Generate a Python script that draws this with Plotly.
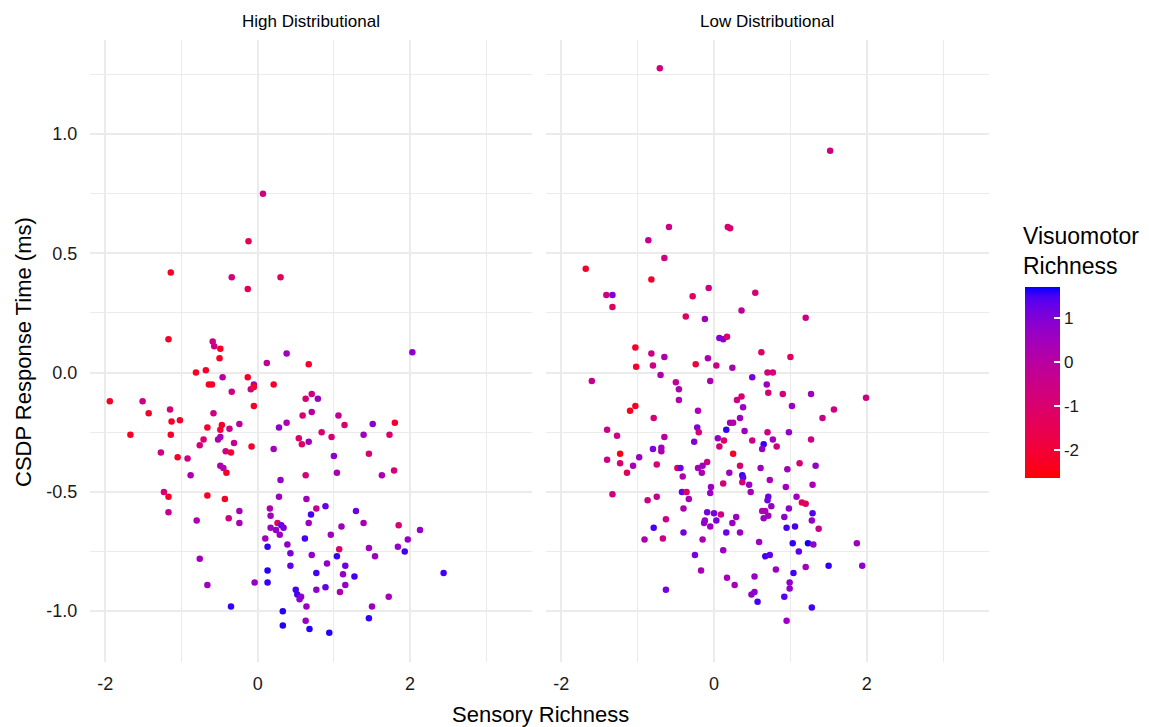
import plotly.graph_objects as go
import numpy as np

# ---------------- data ----------------
panels = ["High Distributional", "Low Distributional"]

hd_x = [0.07,-0.12,-1.14,-0.34,0.30,-0.13,-1.17,-0.59,-0.57,-0.49,
        -0.50,0.38,0.12,-0.81,-0.68,-0.64,-0.60,-0.46,-0.13,-0.05,
        -0.09,-0.05,0.21,-0.34,-1.94,-1.51,-1.43,-0.05,-0.58,-1.15,
        -1.13,-1.02,-1.67,-1.14,-0.66,-0.47,-0.49,-0.37,-0.24,-0.71,
        -0.76,-0.52,-0.49,-0.31,-0.42,-0.35,-0.08,-1.27,-1.05,-0.92,
        -0.88,-0.49,-0.45,-0.41,0.28,0.38,0.21,0.30,0.28,-1.23,
        -1.17,-0.66,-0.43,-1.17,-0.80,-0.38,-0.24,-0.24,0.16,0.17,
        0.26,0.31,0.34,0.17,0.24,0.29,0.10,0.13,0.39,0.43,
        0.43,-0.76,0.13,0.13,-0.04,-0.66,-0.35,0.33,0.33,0.59,
        0.71,1.06,1.14,1.51,1.80,0.84,0.54,0.58,0.67,0.97,
        1.39,1.73,1.00,1.46,0.63,1.04,1.63,1.79,0.64,0.77,
        0.89,0.70,1.29,1.39,1.85,2.13,1.97,1.84,1.93,2.44,
        0.67,1.10,0.62,0.96,0.71,1.07,1.04,1.46,1.54,0.91,
        1.15,0.77,1.12,1.27,0.50,0.52,0.55,0.57,0.77,0.89,
        1.15,1.08,1.72,0.64,1.50,1.46,0.63,0.68,0.94,0.67,
        2.03,0.71,0.63,0.79]
hd_y = [0.75,0.55,0.42,0.40,0.40,0.35,0.14,0.13,0.11,0.10,
        0.06,0.08,0.04,0.00,0.01,-0.05,-0.05,-0.02,-0.02,-0.05,
        -0.07,-0.06,-0.05,-0.08,-0.12,-0.12,-0.17,-0.14,-0.17,-0.155,
        -0.205,-0.20,-0.26,-0.26,-0.23,-0.22,-0.24,-0.235,-0.215,-0.28,
        -0.305,-0.28,-0.27,-0.295,-0.33,-0.335,-0.31,-0.335,-0.355,-0.36,
        -0.43,-0.39,-0.40,-0.42,-0.23,-0.21,-0.32,-0.45,-0.52,-0.50,
        -0.52,-0.515,-0.53,-0.585,-0.62,-0.61,-0.58,-0.63,-0.57,-0.60,
        -0.63,-0.64,-0.65,-0.65,-0.66,-0.68,-0.695,-0.73,-0.72,-0.757,
        -0.81,-0.78,-0.83,-0.88,-0.88,-0.89,-0.98,-1.00,-1.06,-0.18,
        -0.165,-0.18,-0.22,-0.215,-0.21,-0.25,-0.275,-0.30,-0.29,-0.27,
        -0.26,-0.26,-0.35,-0.34,-0.43,-0.42,-0.43,-0.41,-0.53,-0.57,
        -0.56,-0.595,-0.58,-0.63,-0.64,-0.66,-0.70,-0.73,-0.75,-0.84,
        -0.63,-0.645,-0.695,-0.68,-0.765,-0.74,-0.77,-0.735,-0.77,-0.80,
        -0.81,-0.84,-0.845,-0.855,-0.91,-0.93,-0.95,-0.94,-0.91,-0.90,
        -0.89,-0.92,-0.94,-0.98,-0.98,-1.03,-1.04,-1.075,-1.09,0.035,
        0.085,-0.09,-0.11,-0.11]
hd_v = [-0.6,-1.4,-2.3,-0.8,-1.4,-1.4,-2.2,-0.5,-0.4,-2.3,
        -2.3,0.5,-0.3,-2.3,-2.2,-2.3,-2.2,0.0,-2.2,0.4,
        -0.6,-2.2,-2.2,-0.6,-2.3,-0.5,-2.2,-2.2,-0.6,-0.8,
        -2.2,-2.2,-2.3,-2.2,-2.2,-2.2,-2.0,-0.5,0.0,-1.0,
        -0.8,0.3,0.3,-0.3,-0.5,-2.2,-2.2,-0.5,-2.2,-0.6,
        0.3,0.3,0.2,-2.2,0.8,0.3,0.4,0.7,0.5,-0.8,
        -2.2,-2.2,-2.2,-0.2,0.3,-0.6,0.4,0.4,0.3,0.5,
        -1.3,1.3,1.1,0.5,0.7,0.6,0.5,1.55,0.8,1.1,
        1.3,0.5,1.6,1.55,0.7,0.5,1.55,1.6,1.6,-1.0,
        0.0,-0.3,-1.0,0.9,-2.2,-1.0,-1.0,-1.1,0.5,-0.8,
        0.5,-1.0,0.8,-1.0,-0.8,0.3,0.3,-0.8,0.5,-0.3,
        1.3,1.5,1.2,0.3,-1.0,0.7,0.7,0.7,1.5,1.5,
        0.5,0.5,1.5,0.5,0.8,-1.0,1.55,0.5,0.5,0.8,
        1.2,1.5,0.7,1.5,1.5,1.5,0.8,0.8,0.8,1.3,
        0.7,0.3,0.4,0.6,0.6,1.55,0.6,1.6,1.6,-2.2,
        0.8,-0.6,-0.9,0.6]

ld_x = [-0.71,1.52,-0.59,0.18,0.21,-0.86,-0.65,-1.68,-0.82,-1.41,
        -1.33,-1.33,-0.07,-0.28,-0.37,-0.12,0.07,0.12,0.17,-1.03,
        -0.82,-0.65,-1.02,-0.80,-0.08,-0.24,0.03,0.24,-0.70,-1.60,
        -0.50,-0.46,-0.05,-0.46,-1.10,-1.03,-0.79,-0.21,-0.22,-0.20,
        -1.40,-1.27,-0.65,0.16,0.05,0.13,0.07,-0.26,-1.23,-0.80,
        -0.69,-0.69,-0.98,-1.40,-0.09,-1.23,-1.06,-1.14,-0.75,-0.48,
        -0.44,-0.41,-0.21,-0.15,-0.16,0.12,0.20,-1.33,-0.42,-0.36,
        -0.33,-0.04,-0.05,-0.75,-0.87,-0.40,-0.09,0.00,0.09,-0.12,
        -0.13,0.03,-0.05,-0.63,-0.79,-0.91,-0.67,-0.40,-0.15,0.16,
        0.12,-0.25,-0.17,0.17,-0.63,0.54,0.36,1.20,0.62,1.00,
        0.50,0.70,0.77,0.69,0.71,0.90,1.27,1.99,0.30,0.36,
        0.38,1.02,1.42,1.57,0.21,0.25,0.34,0.40,0.70,0.98,
        0.50,0.77,0.65,0.63,0.82,1.27,0.25,0.34,0.37,0.38,
        0.37,0.46,0.61,0.73,1.12,1.33,0.96,1.29,0.94,0.48,
        0.71,0.70,0.75,1.08,1.15,1.20,0.98,0.29,0.24,0.63,
        0.67,0.71,0.65,0.92,0.95,1.06,1.29,1.28,1.37,0.34,
        0.59,1.03,1.23,1.30,1.11,0.67,0.73,1.87,1.50,1.94,
        1.20,0.81,1.04,0.53,0.27,0.99,0.99,0.49,0.53,0.57,
        0.92,1.28,0.95]
ld_y = [1.276,0.93,0.61,0.61,0.605,0.555,0.48,0.435,0.39,0.325,
        0.325,0.275,0.355,0.32,0.235,0.225,0.145,0.14,0.15,0.105,
        0.08,0.065,0.025,0.03,0.06,0.035,0.03,0.02,-0.01,-0.035,
        -0.04,-0.07,-0.035,-0.115,-0.16,-0.14,-0.19,-0.16,-0.23,-0.25,
        -0.24,-0.265,-0.27,-0.24,-0.275,-0.285,-0.31,-0.29,-0.34,-0.32,
        -0.315,-0.33,-0.355,-0.365,-0.375,-0.38,-0.39,-0.42,-0.385,-0.40,
        -0.40,-0.435,-0.40,-0.39,-0.42,-0.465,-0.42,-0.51,-0.50,-0.50,
        -0.53,-0.48,-0.505,-0.52,-0.535,-0.57,-0.585,-0.59,-0.595,-0.62,
        -0.63,-0.62,-0.645,-0.615,-0.65,-0.70,-0.695,-0.67,-0.70,-0.67,
        -0.745,-0.765,-0.83,-0.86,-0.91,0.335,0.26,0.23,0.085,0.065,
        -0.02,0.0,0.0,-0.05,-0.085,-0.09,-0.09,-0.105,-0.115,-0.10,
        -0.145,-0.14,-0.19,-0.155,-0.21,-0.21,-0.19,-0.245,-0.25,-0.25,
        -0.285,-0.28,-0.30,-0.32,-0.31,-0.28,-0.34,-0.39,-0.43,-0.44,
        -0.46,-0.47,-0.40,-0.45,-0.38,-0.39,-0.405,-0.47,-0.48,-0.50,
        -0.52,-0.535,-0.56,-0.52,-0.545,-0.55,-0.57,-0.605,-0.63,-0.58,
        -0.58,-0.60,-0.61,-0.605,-0.65,-0.645,-0.59,-0.62,-0.655,-0.67,
        -0.71,-0.715,-0.715,-0.72,-0.75,-0.77,-0.765,-0.715,-0.81,-0.81,
        -0.815,-0.825,-0.84,-0.855,-0.89,-0.88,-0.905,-0.93,-0.92,-0.96,
        -0.94,-0.985,-1.04]
ld_v = [-0.6,-0.6,-0.6,-0.9,-1.0,-0.2,-0.6,-2.2,-2.2,-0.6,
        1.0,-1.2,-0.6,-1.3,-1.2,0.5,1.0,0.9,-1.0,-2.2,
        -0.6,0.3,-2.2,-0.6,0.3,-1.9,-0.6,0.3,0.3,-0.4,
        -0.2,0.2,0.3,0.2,-2.3,-2.2,-0.8,0.2,1.0,-0.9,
        -0.5,-0.5,0.0,1.55,0.6,-1.1,-0.8,1.0,-2.5,1.0,
        0.4,0.4,0.6,-0.5,-0.6,-1.0,0.4,-1.4,-0.8,-1.3,
        1.2,0.2,0.4,0.5,0.3,-0.8,0.5,-0.6,1.35,-1.2,
        0.3,0.6,0.6,-0.3,-0.6,0.2,1.1,1.1,-0.6,0.7,
        0.7,1.1,0.5,-0.6,1.5,0.3,-0.6,1.1,0.3,1.2,
        0.6,1.1,0.4,0.4,1.1,-0.8,-0.2,-0.6,-1.2,-1.2,
        1.1,-0.8,-0.8,0.6,-0.8,-0.8,0.5,-0.6,-0.6,-0.9,
        0.6,0.6,-0.4,-0.6,0.4,0.2,0.5,0.6,-0.6,0.7,
        -0.6,0.4,1.55,0.8,-0.6,-0.6,-2.3,-1.0,1.55,1.35,
        -0.8,0.6,0.6,0.3,-0.9,0.7,0.5,0.3,0.5,0.4,
        1.2,1.2,0.7,0.5,-1.3,-1.2,0.7,0.6,0.6,0.3,
        0.3,0.4,0.6,0.8,1.5,1.5,1.4,0.7,-0.3,0.6,
        0.5,1.55,1.65,0.7,1.35,1.5,1.35,0.5,1.55,0.8,
        0.4,0.6,1.5,0.6,0.4,0.8,0.8,0.7,0.8,1.5,
        1.35,1.5,0.6]

x_ticks = [-2, 0, 2]
y_ticks = [-1.0, -0.5, 0.0, 0.5, 1.0]
y_ticktext = ["-1.0", "-0.5", "0.0", "0.5", "1.0"]
cbar_ticks = [-2, -1, 0, 1]
v_min, v_max = -2.64, 1.70

# ------------- colour scale: red -> blue interpolated in CIE Lab -------------
def _lin(c):
    c = c / 255.0
    return np.where(c <= 0.04045, c / 12.92, ((c + 0.055) / 1.055) ** 2.4)

def _gam(c):
    c = np.clip(c, 0, 1)
    return np.where(c <= 0.0031308, 12.92 * c, 1.055 * c ** (1 / 2.4) - 0.055) * 255

M = np.array([[0.4124, 0.3576, 0.1805], [0.2126, 0.7152, 0.0722], [0.0193, 0.1192, 0.9505]])
Mi = np.linalg.inv(M)
WHITE = np.array([0.95047, 1.0, 1.08883])

def rgb2lab(rgb):
    xyz = M @ _lin(np.array(rgb, float)) / WHITE
    f = np.where(xyz > 0.008856, np.cbrt(xyz), 7.787 * xyz + 16 / 116)
    return np.array([116 * f[1] - 16, 500 * (f[0] - f[1]), 200 * (f[1] - f[2])])

def lab2rgb(lab):
    fy = (lab[0] + 16) / 116
    fx = fy + lab[1] / 500
    fz = fy - lab[2] / 200
    f = np.array([fx, fy, fz])
    xyz = np.where(f ** 3 > 0.008856, f ** 3, (f - 16 / 116) / 7.787) * WHITE
    return _gam(Mi @ xyz)

lab_lo = rgb2lab([255, 0, 0])
lab_hi = rgb2lab([0, 0, 255])
colorscale = []
for t in np.linspace(0, 1, 21):
    r, g, b = lab2rgb(lab_lo + (lab_hi - lab_lo) * t)
    colorscale.append([float(t), f"rgb({int(round(r))},{int(round(g))},{int(round(b))})"])

# ---------------- figure ----------------
# the page body has an 8px margin, so the figure is 8px smaller and
# all reference pixel positions are shifted by 8px
OFF = 8
W, H = 1149 - OFF, 727 - OFF
def px(v): return (v - OFF) / W
def py(v): return 1 - (v - OFF) / H

FONT = "Liberation Sans, Arial, sans-serif"
GRID = "#EBEBEB"
TXT = "#1a1a1a"

fig = go.Figure()
for xs, ys, vs, xa, ya in [(hd_x, hd_y, hd_v, "x", "y"), (ld_x, ld_y, ld_v, "x2", "y2")]:
    fig.add_trace(go.Scatter(
        x=xs, y=ys, mode="markers", xaxis=xa, yaxis=ya, showlegend=False,
        marker=dict(color=vs, coloraxis="coloraxis", size=6.5, line=dict(width=0)),
    ))

xcommon = dict(range=[-2.2, 3.6], tickvals=x_ticks, ticktext=[str(t) for t in x_ticks],
               showgrid=True, gridcolor=GRID, gridwidth=1.8, zeroline=False, showline=False,
               minor=dict(tickvals=[-1, 1, 3], showgrid=True, gridcolor=GRID, gridwidth=1.2),
               ticks="outside", ticklen=5, tickcolor="rgba(0,0,0,0)",
               tickfont=dict(family=FONT, size=18, color=TXT))
ycommon = dict(range=[-1.213, 1.394], tickvals=y_ticks, ticktext=y_ticktext,
               showgrid=True, gridcolor=GRID, gridwidth=1.8, zeroline=False, showline=False,
               minor=dict(tickvals=[-0.75, -0.25, 0.25, 0.75, 1.25], showgrid=True,
                          gridcolor=GRID, gridwidth=1.2),
               ticks="outside", ticklen=8, tickcolor="rgba(0,0,0,0)",
               domain=[py(662), py(40)],
               tickfont=dict(family=FONT, size=18, color=TXT))

fig.update_layout(
    width=W, height=H,
    margin=dict(l=0, r=0, t=0, b=0),
    paper_bgcolor="white", plot_bgcolor="white",
    font=dict(family=FONT, color="black"),
    xaxis=dict(domain=[px(90), px(532)], anchor="y", **xcommon),
    xaxis2=dict(domain=[px(546), px(989)], anchor="y2", **xcommon),
    yaxis=dict(anchor="x", **ycommon),
    yaxis2=dict(anchor="x2", showticklabels=False, **{k: v for k, v in ycommon.items() if k != "tickfont"}),
    coloraxis=dict(
        colorscale=colorscale, cmin=v_min, cmax=v_max,
        colorbar=dict(
            x=px(1025), xanchor="left", y=py(287), yanchor="top",
            lenmode="pixels", len=191, thicknessmode="pixels", thickness=35,
            xpad=0, ypad=0, outlinewidth=0,
            tickvals=cbar_ticks, ticktext=[str(t) for t in cbar_ticks],
            ticks="inside", ticklen=6, tickwidth=1.5, tickcolor="white",
            tickfont=dict(family=FONT, size=17, color=TXT),
            title=dict(text=""),
        ),
    ),
)

annotations = [
    dict(text=panels[0], x=px(311), y=py(22), font=dict(size=17)),
    dict(text=panels[1], x=px(767), y=py(22), font=dict(size=17)),
    dict(text="Sensory Richness", x=px(540), y=py(714), font=dict(size=22)),
    dict(text="CSDP Response Time (ms)", x=px(23), y=py(352), textangle=-90, font=dict(size=22)),
    dict(text="Visuomotor<br>Richness", x=px(1021), y=py(251), xanchor="left", align="left",
         font=dict(size=23)),
]
for a in annotations:
    a.setdefault("xanchor", "center")
    a.update(xref="paper", yref="paper", showarrow=False, yanchor="middle")
    a["font"] = dict(family=FONT, color="black", **a["font"])
    fig.add_annotation(**a)

fig.write_html("out.html")
